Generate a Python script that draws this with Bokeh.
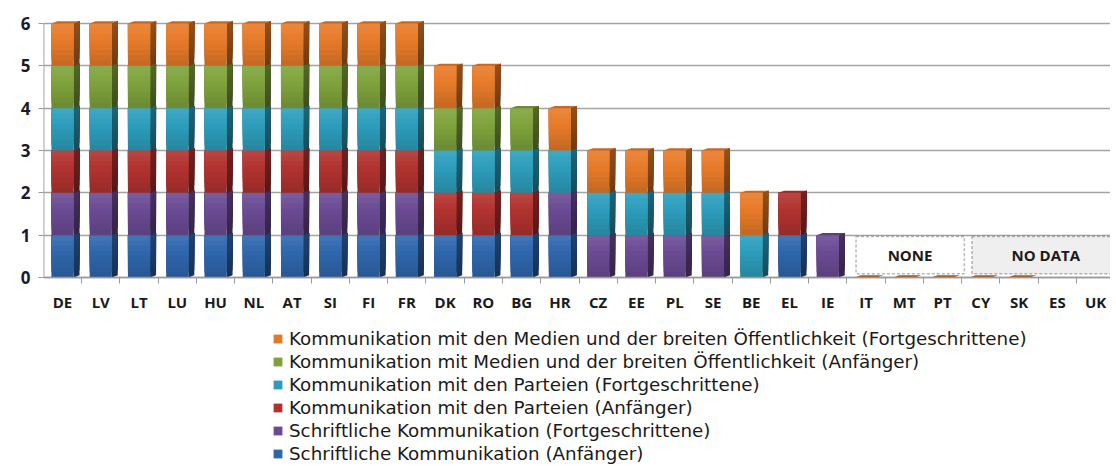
import math
from bokeh.plotting import figure
from bokeh.models import (Range1d, FixedTicker, Legend, LegendItem, BoxAnnotation, Label, LinearAxis)
from bokeh.embed import file_html
from bokeh.resources import INLINE

countries = ["DE", "LV", "LT", "LU", "HU", "NL", "AT", "SI", "FI", "FR", "DK", "RO",
             "BG", "HR", "CZ", "EE", "PL", "SE", "BE", "EL", "IE", "IT", "MT", "PT",
             "CY", "SK", "ES", "UK"]
NA = float("nan")
# series bottom -> top
schrift_anf = [1, 1, 1, 1, 1, 1, 1, 1, 1, 1, 1, 1, 1, 1, 0, 0, 0, 0, 0, 1, 0, 0, 0, 0, 0, 0, NA, NA]
schrift_fort = [1, 1, 1, 1, 1, 1, 1, 1, 1, 1, 0, 0, 0, 1, 1, 1, 1, 1, 0, 0, 1, 0, 0, 0, 0, 0, NA, NA]
parteien_anf = [1, 1, 1, 1, 1, 1, 1, 1, 1, 1, 1, 1, 1, 0, 0, 0, 0, 0, 0, 1, 0, 0, 0, 0, 0, 0, NA, NA]
parteien_fort = [1, 1, 1, 1, 1, 1, 1, 1, 1, 1, 1, 1, 1, 1, 1, 1, 1, 1, 1, 0, 0, 0, 0, 0, 0, 0, NA, NA]
medien_anf = [1, 1, 1, 1, 1, 1, 1, 1, 1, 1, 1, 1, 1, 0, 0, 0, 0, 0, 0, 0, 0, 0, 0, 0, 0, 0, NA, NA]
medien_fort = [1, 1, 1, 1, 1, 1, 1, 1, 1, 1, 1, 1, 0, 1, 1, 1, 1, 1, 1, 0, 0, 0, 0, 0, 0, 0, NA, NA]

series_names = [
    "Schriftliche Kommunikation (Anfänger)",
    "Schriftliche Kommunikation (Fortgeschrittene)",
    "Kommunikation mit den Parteien (Anfänger)",
    "Kommunikation mit den Parteien (Fortgeschrittene)",
    "Kommunikation mit Medien und der breiten Öffentlichkeit (Anfänger)",
    "Kommunikation mit den Medien und der breiten Öffentlichkeit (Fortgeschrittene)",
]
series_values = [schrift_anf, schrift_fort, parteien_anf, parteien_fort, medien_anf, medien_fort]
front_colors = ["#3068AE", "#6C4C95", "#B33431", "#2E9FBD", "#80A43D", "#E87C2A"]

yticks = [0, 1, 2, 3, 4, 5, 6]
none_group = ["IT", "MT", "PT"]
nodata_group = ["CY", "SK", "ES", "UK"]


def shade(hexcol, f):
    h = hexcol.lstrip("#")
    rgb = [int(h[k:k + 2], 16) for k in (0, 2, 4)]
    if f >= 1:
        rgb = [min(255, int(c + (255 - c) * (f - 1))) for c in rgb]
    else:
        rgb = [int(c * f) for c in rgb]
    return "#%02x%02x%02x" % tuple(rgb)


W, H = 1110, 464
p = figure(width=W, height=H, output_backend="svg", toolbar_location=None,
           x_range=Range1d(-0.4966, 27.39), y_range=Range1d(-4.418, 6.354),
           x_axis_location=None,
           min_border_left=43, min_border_right=0, min_border_top=8, min_border_bottom=0)
p.outline_line_color = None
p.background_fill_color = "white"
p.border_fill_color = "white"

p.xgrid.grid_line_color = None
p.ygrid.ticker = FixedTicker(ticks=yticks)
p.ygrid.grid_line_color = "#A4A4A4"
p.ygrid.grid_line_width = 1.6

dx = 0.155   # depth offset in x (data units)
dy = 0.05    # depth offset in y (data units)
w = 0.58
NB = 8       # gradient bands per segment

xs_idx = list(range(len(countries)))
bottoms = [0.0] * len(countries)
legend_renderers = []
for s, vals in enumerate(series_values):
    bx, bb, bt, bc = [], [], [], []
    sxs, sys, scs = [], [], []
    for i, v in enumerate(vals):
        if isinstance(v, float) and math.isnan(v):
            continue
        if v > 0:
            b = bottoms[i]
            t = b + v
            # each band spans from its own start to the segment top; later bands overlap earlier ones
            for k in range(NB):
                y0 = b + (t - b) * k / NB
                frac = (k + 0.5) / NB
                bx.append(i); bb.append(y0); bt.append(t)
                bc.append(shade(front_colors[s], 0.84 + 0.26 * frac))
                xr = i + w / 2
                sxs.append([xr, xr + dx, xr + dx, xr])
                sys.append([y0, y0 + dy, t + dy, t])
                scs.append(shade(front_colors[s], 0.48 + 0.16 * frac))
            bottoms[i] = t
    p.patches(xs=sxs, ys=sys, fill_color=scs, line_color=None)
    r = p.vbar(x=bx, bottom=bb, top=bt, width=w, fill_color=bc, line_color=None)
    legend_renderers.append(r)

# top faces
txs, tys, tcs = [], [], []
for i in xs_idx:
    top_s = None
    for s, vals in enumerate(series_values):
        v = vals[i]
        if not (isinstance(v, float) and math.isnan(v)) and v > 0:
            top_s = s
    if top_s is None:
        v = series_values[-1][i]
        if isinstance(v, float) and math.isnan(v):
            continue
        top_s = len(series_values) - 1
    t = bottoms[i]
    xl, xr = i - w / 2, i + w / 2
    txs.append([xl, xl + dx, xr + dx, xr])
    tys.append([t, t + dy, t + dy, t])
    tcs.append(shade(front_colors[top_s], 0.85) if t > 0 else shade(front_colors[top_s], 0.7))
p.patches(xs=txs, ys=tys, fill_color=tcs, line_color=None)

# y axis line (only from 0 to 6)
x0 = p.x_range.start + 0.004
p.segment(x0=[x0], y0=[yticks[0]], x1=[x0], y1=[yticks[-1]], line_color="#999999", line_width=1.5)

# annotation boxes
ci = {c: i for i, c in enumerate(countries)}
box1 = BoxAnnotation(left=ci[none_group[0]] - 0.26, right=ci[none_group[-1]] + 0.57,
                     bottom=0.09, top=0.97, fill_color="white", fill_alpha=1,
                     line_color="#111111", line_dash="3 2", line_width=1.5)
box2 = BoxAnnotation(left=ci[nodata_group[0]] - 0.23, right=ci[nodata_group[-1]] + 0.6,
                     bottom=0.09, top=0.97, fill_color="#EFEFEF", fill_alpha=1,
                     line_color="#111111", line_dash="3 2", line_width=1.5)
p.add_layout(box1)
p.add_layout(box2)
lab1 = Label(x=(ci[none_group[0]] + ci[none_group[-1]]) / 2 + 0.15, y=0.53, text="NONE",
             text_align="center", text_baseline="middle", text_font="Open Sans",
             text_font_size="15px", text_color="#1a1a1a", text_font_style="bold")
lab2 = Label(x=(ci[nodata_group[0]] + ci[nodata_group[-1]]) / 2 + 0.2, y=0.53, text="NO DATA",
             text_align="center", text_baseline="middle", text_font="Open Sans",
             text_font_size="15px", text_color="#1a1a1a", text_font_style="bold")
p.add_layout(lab1)
p.add_layout(lab2)

# x axis at value 0
xaxis = LinearAxis(fixed_location=0)
xaxis.ticker = FixedTicker(ticks=xs_idx, minor_ticks=[i - 0.5 for i in xs_idx] + [len(countries) - 0.5])
xaxis.major_label_overrides = {i: c for i, c in enumerate(countries)}
xaxis.major_tick_line_color = None
xaxis.minor_tick_line_color = "#999999"
xaxis.minor_tick_in = 0
xaxis.minor_tick_out = 6
xaxis.axis_line_color = "#999999"
xaxis.axis_line_width = 1.5
xaxis.major_label_standoff = 9
xaxis.major_label_text_font = "Open Sans"
xaxis.major_label_text_font_size = "15px"
xaxis.major_label_text_font_style = "bold"
xaxis.major_label_text_color = "#1a1a1a"
p.add_layout(xaxis, "below")

p.yaxis.ticker = FixedTicker(ticks=yticks)
p.yaxis.minor_tick_line_color = None
p.yaxis.major_tick_line_color = "#999999"
p.yaxis.major_tick_in = 0
p.yaxis.major_tick_out = 5
p.yaxis.axis_line_color = None
p.yaxis.major_label_standoff = 8
p.yaxis.major_label_text_font = "Open Sans"
p.yaxis.major_label_text_font_size = "17px"
p.yaxis.major_label_text_font_style = "bold"
p.yaxis.major_label_text_color = "#1a1a2a"

items = [LegendItem(label=series_names[s], renderers=[legend_renderers[s]], index=NB // 2)
         for s in reversed(range(6))]
legend = Legend(items=items, location=(229, 0), orientation="vertical",
                padding=0, margin=0, spacing=2, label_height=20, glyph_height=11, glyph_width=11,
                label_standoff=6, label_text_font="DejaVu Sans", label_text_font_size="18.3px",
                label_text_color="#1a1a1a", border_line_color=None, background_fill_alpha=0)
p.add_layout(legend)

open("out.html", "w").write(file_html(p, INLINE))
